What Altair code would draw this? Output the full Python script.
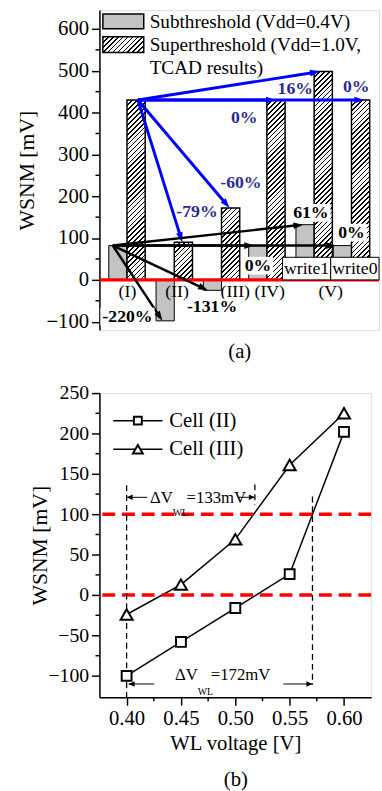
import math
import altair as alt
import pandas as pd

FONT = "Liberation Serif"
BLUE = "#0000ff"
NAVY = "#2b2b8f"
RED = "#ff0000"
GRAY = "#c3c3c3"

# ---------------- panel (a) data ----------------
groups = ["(I)", "(II)", "(III)", "(IV)", "write1", "write0"]
group_pos = [1.0, 2.0, 3.0, 3.96, 4.96, 5.75]
sub_vals = [82, -98, -25, 82, 132, 82]
super_vals = [430, 90, 172, 430, 498, 430]

cat_labels = ["(I)", "(II)", "(III)", "(IV)", "(V)"]
cat_label_x = [1.01, 2.06, 3.29, 4.02, 5.31]
cat_label_y = [-30, -30, -30, -30, -30]

write_labels = ["write1", "write0"]
write_box_x = [4.29, 5.31]
write_box_x2 = [5.31, 6.333]
write_box_y2 = [54, 54]

blue_from = (1.23, 430)
blue_to_x = [5.08, 4.15, 6.02, 2.17, 3.17]
blue_to_y = [498, 430, 430, 90, 172]
blue_text = ["16%", "0%", "0%", "-79%", "-60%"]
blue_text_x = [4.56, 3.48, 5.85, 2.48, 3.41]
blue_text_y = [457, 386, 462, 163, 231]

black_from = (0.70, 82)
black_to_x = [1.75, 2.71, 3.69, 4.73, 5.42]
black_to_y = [-98, -25, 82, 132, 82]
black_text = ["-220%", "-131%", "0%", "61%", "0%"]
black_text_x = [1.01, 2.80, 3.77, 4.89, 5.75]
black_text_y = [-88, -66, 34, 160, 113]

a_major = [-100, 0, 100, 200, 300, 400, 500, 600]
a_minor = [-50, 50, 150, 250, 350, 450, 550]

# ---------------- panel (b) data ----------------
wl = [0.40, 0.45, 0.50, 0.55, 0.60]
cell2 = [-100, -58, -16, 26, 202]
cell3 = [-24, 13, 69, 161, 225]
ref_levels = [0, 100]
vline_x = [0.40, 0.518, 0.571]
vline_top = [136, 137, 122]
vline_bot = [-126.5, 112, -111]
b_ymajor = [-100, -50, 0, 50, 100, 150, 200, 250]
b_yminor = [-75, -25, 25, 75, 125, 175, 225]
b_xmajor = [0.40, 0.45, 0.50, 0.55, 0.60]
b_xminor = [0.425, 0.475, 0.525, 0.575]

# ---------------- geometry ----------------
AX = [0.417, 6.333]; AW = 284
AY = [-120, 645]; AH = 325
kx = AW / (AX[1] - AX[0]); ky = AH / (AY[1] - AY[0])
BWID = 0.385

BX = [0.375, 0.625]; BWp = 276
BY = [-126.5, 250]; BHp = 309

XS = alt.Scale(domain=AX, nice=False, zero=False)
YS = alt.Scale(domain=AY, nice=False, zero=False)
XSB = alt.Scale(domain=BX, nice=False, zero=False)
YSB = alt.Scale(domain=BY, nice=False, zero=False)


def y_axis(values, title, pad, lsize):
    return alt.Axis(values=values, title=title, grid=False, domain=True, domainColor="black",
                    domainWidth=1.5, ticks=True, tickSize=8, tickWidth=1.5, tickColor="black",
                    labelFont=FONT, labelFontSize=lsize, labelColor="black", labelPadding=3,
                    titleFont=FONT, titleFontSize=22, titleFontWeight="normal", titleColor="black",
                    titlePadding=pad, labelOverlap=False, labelFlush=False)


AXIS_AX = alt.Axis(title="(a)", labels=False, ticks=False, domain=False, grid=False, titleFont=FONT,
                   titleFontSize=21, titleFontWeight="normal", titleColor="black", titlePadding=11)
AXIS_AY = y_axis(a_major, "WSNM [mV]", 8, 21)
AXIS_BX = alt.Axis(values=b_xmajor, format=".2f", title=["WL voltage [V]", "(b)"], grid=False, domain=True,
                   domainColor="black", domainWidth=1.5, tickSize=8, tickWidth=1.5, tickColor="black",
                   labelFont=FONT, labelFontSize=21, labelColor="black", labelPadding=3, labelFlush=False,
                   titleFont=FONT, titleFontSize=21, titleFontWeight="normal", titleColor="black",
                   titlePadding=4, titleLineHeight=37)
AXIS_BY = y_axis(b_ymajor, "WSNM [mV]", -4, 20)


def ax(f):
    return alt.X(f, scale=XS, axis=AXIS_AX)


def ay(f):
    return alt.Y(f, scale=YS, axis=AXIS_AY)


def bx(f):
    return alt.X(f, scale=XSB, axis=AXIS_BX)


def by(f):
    return alt.Y(f, scale=YSB, axis=AXIS_BY)


def hatch(w, h, period=5.0, ink=1.7):
    L = w + h
    r = h / w
    s = (1 + r) / (1 + r * r)
    stops = []
    k = 0
    while k * period < L:
        a = k * period / L
        b = min((k * period + ink) / L, 1.0)
        stops += [{"offset": a, "color": "white"}, {"offset": a, "color": "black"},
                  {"offset": b, "color": "black"}, {"offset": b, "color": "white"}]
        k += 1
    return {"gradient": "linear", "x1": 0, "y1": 0, "x2": s, "y2": s * r, "stops": stops}


def arrows(start, txs, tys, kx_, ky_, back):
    sx, sy = start
    rows = []
    for tx, ty in zip(txs, tys):
        dxp = (tx - sx) * kx_
        dyp = -(ty - sy) * ky_
        L = math.hypot(dxp, dyp)
        ang = math.degrees(math.atan2(dxp, -dyp)) % 360
        ex = tx - (dxp / L * back) / kx_
        ey = ty + (dyp / L * back) / ky_
        rows.append({"x": sx, "y": sy, "x2": ex, "y2": ey, "tx": tx, "ty": ty, "ang": ang})
    return pd.DataFrame(rows)


HEAD = "M0,0L-0.34,1L0.34,1Z"

# ---------------- panel (a) ----------------
df_bars = pd.DataFrame({"g": groups, "pos": group_pos, "sub": sub_vals, "sup": super_vals})
df_bars["gx0"] = df_bars["pos"] - BWID
df_bars["hx1"] = df_bars["pos"] + BWID
df_bars["zero"] = 0

a_layers = []
a_layers.append(
    alt.Chart(df_bars).mark_rect(fill=GRAY, stroke="black", strokeWidth=1).encode(
        x=ax("gx0:Q"), x2="pos:Q", y=ay("zero:Q"), y2="sub:Q")
)
for i in range(len(groups)):
    g = hatch(BWID * kx, super_vals[i] * ky)
    a_layers.append(
        alt.Chart(df_bars.iloc[[i]]).mark_rect(fill=g, stroke="black", strokeWidth=1.5).encode(
            x=ax("pos:Q"), x2="hx1:Q", y=ay("zero:Q"), y2="sup:Q")
    )

a_layers.append(
    alt.Chart(pd.DataFrame({"m": a_minor})).mark_rule(color="black", strokeWidth=1.5).encode(
        y=ay("m:Q"), x=alt.value(-4), x2=alt.value(0))
)
a_layers.append(
    alt.Chart(pd.DataFrame({"z": [0]})).mark_rule(color=RED, strokeWidth=3.5).encode(y=ay("z:Q"))
)

df_w = pd.DataFrame({"t": write_labels, "x": write_box_x, "x2": write_box_x2, "y": [0, 0], "y2": write_box_y2})
df_w["cx"] = (df_w["x"] + df_w["x2"]) / 2
df_w["cy"] = df_w["y2"] / 2
a_layers.append(
    alt.Chart(df_w).mark_rect(fill="white", stroke="black", strokeWidth=1).encode(
        x=ax("x:Q"), x2="x2:Q", y=ay("y:Q"), y2="y2:Q")
)
a_layers.append(
    alt.Chart(df_w).mark_text(font=FONT, fontSize=18, color="black", baseline="middle").encode(
        x=ax("cx:Q"), y=ay("cy:Q"), text="t:N")
)
a_layers.append(
    alt.Chart(pd.DataFrame({"t": cat_labels, "x": cat_label_x, "y": cat_label_y})).mark_text(
        font=FONT, fontSize=18, color="black", baseline="middle").encode(
        x=ax("x:Q"), y=ay("y:Q"), text="t:N")
)

for start, txs, tys, col, wid in [(blue_from, blue_to_x, blue_to_y, BLUE, 3.0),
                                  (black_from, black_to_x, black_to_y, "black", 2.5)]:
    dfa = arrows(start, txs, tys, kx, ky, 6)
    a_layers.append(
        alt.Chart(dfa).mark_rule(color=col, strokeWidth=wid).encode(
            x=ax("x:Q"), x2="x2:Q", y=ay("y:Q"), y2="y2:Q")
    )
    a_layers.append(
        alt.Chart(dfa).mark_point(shape=HEAD, size=400, filled=True, color=col, opacity=1).encode(
            x=ax("tx:Q"), y=ay("ty:Q"), angle=alt.Angle("ang:Q", scale=None))
    )


def text_w(s, em):
    w = 0.0
    for c in s:
        w += 1.0 if c == "%" else (0.333 if c == "-" else 0.5)
    return w * em


df_bt = pd.DataFrame({"t": black_text, "x": black_text_x, "y": black_text_y})
df_bt["bx"] = [x - (text_w(t, 18) / 2 + 2) / kx for t, x in zip(black_text, black_text_x)]
df_bt["bx2"] = [x + (text_w(t, 18) / 2 + 2) / kx for t, x in zip(black_text, black_text_x)]
df_bt["by"] = df_bt["y"] - 9 / ky
df_bt["by2"] = df_bt["y"] + 9 / ky
a_layers.append(
    alt.Chart(df_bt).mark_rect(fill="white").encode(x=ax("bx:Q"), x2="bx2:Q", y=ay("by:Q"), y2="by2:Q")
)
a_layers.append(
    alt.Chart(df_bt).mark_text(font=FONT, fontSize=18, fontWeight="bold", color="black", baseline="middle").encode(
        x=ax("x:Q"), y=ay("y:Q"), text="t:N")
)
a_layers.append(
    alt.Chart(pd.DataFrame({"t": blue_text, "x": blue_text_x, "y": blue_text_y})).mark_text(
        font=FONT, fontSize=18, fontWeight="bold", color=NAVY, baseline="middle").encode(
        x=ax("x:Q"), y=ay("y:Q"), text="t:N")
)

one = pd.DataFrame({"k": [0]})
a_layers.append(
    alt.Chart(one).mark_rect(fill=GRAY, stroke="black", strokeWidth=1.5).encode(
        x=alt.value(3.5), x2=alt.value(45), y=alt.value(4), y2=alt.value(19))
)
a_layers.append(
    alt.Chart(one).mark_rect(fill=hatch(41.5, 16), stroke="black", strokeWidth=1.5).encode(
        x=alt.value(3.5), x2=alt.value(45), y=alt.value(27), y2=alt.value(43))
)
for txt, yy in [("Subthreshold (Vdd=0.4V)", 12), ("Superthreshold (Vdd=1.0V,", 35.5), ("TCAD results)", 59)]:
    a_layers.append(
        alt.Chart(one).mark_text(font=FONT, fontSize=19.5, color="black", align="left", baseline="middle").encode(
            x=alt.value(51), y=alt.value(yy), text=alt.value(txt))
    )

panel_a = alt.layer(*a_layers).properties(width=AW, height=AH)

# ---------------- panel (b) ----------------
df_b = pd.DataFrame({"wl": wl * 2, "v": cell2 + cell3, "s": ["Cell (II)"] * 5 + ["Cell (III)"] * 5})
b_layers = []
b_layers.append(
    alt.Chart(df_b).mark_line(color="black", strokeWidth=1.5).encode(x=bx("wl:Q"), y=by("v:Q"), detail="s:N")
)
b_layers.append(
    alt.Chart(pd.DataFrame({"m": b_yminor})).mark_rule(color="black", strokeWidth=1.5).encode(
        y=by("m:Q"), x=alt.value(-4), x2=alt.value(0))
)
b_layers.append(
    alt.Chart(pd.DataFrame({"m": b_xminor})).mark_rule(color="black", strokeWidth=1.5).encode(
        x=bx("m:Q"), y=alt.value(BHp), y2=alt.value(BHp + 4))
)
b_layers.append(
    alt.Chart(pd.DataFrame({"r": ref_levels})).mark_rule(color=RED, strokeWidth=3.5, strokeDash=[13, 7]).encode(
        y=by("r:Q"))
)
b_layers.append(
    alt.Chart(pd.DataFrame({"x": vline_x, "y": vline_top, "y2": vline_bot})).mark_rule(
        color="black", strokeWidth=1.3, strokeDash=[6, 4]).encode(x=bx("x:Q"), y=by("y:Q"), y2="y2:Q")
)
b_layers.append(
    alt.Chart(pd.DataFrame({"wl": wl, "v": cell2})).mark_point(
        shape="square", size=100, filled=True, fill="white", stroke="black", strokeWidth=2, opacity=1).encode(
        x=bx("wl:Q"), y=by("v:Q"))
)
b_layers.append(
    alt.Chart(pd.DataFrame({"wl": wl, "v": cell3})).mark_point(
        shape="triangle-up", size=150, filled=True, fill="white", stroke="black", strokeWidth=2, opacity=1).encode(
        x=bx("wl:Q"), y=by("v:Q"))
)

seg = pd.DataFrame({"x": [0.400, 0.503, 0.4018, 0.5443], "x2": [0.419, 0.518, 0.4253, 0.571],
                    "y": [121, 121, -110, -110]})
b_layers.append(
    alt.Chart(seg).mark_rule(color="black", strokeWidth=1).encode(x=bx("x:Q"), x2="x2:Q", y=by("y:Q"))
)
heads = pd.DataFrame({"x": [0.400, 0.518, 0.4018, 0.571], "y": [121, 121, -110, -110],
                      "ang": [270, 90, 270, 90]})
b_layers.append(
    alt.Chart(heads).mark_point(shape="M0,0L-0.45,1L0.45,1Z", size=150, filled=True, color="black", opacity=1).encode(
        x=bx("x:Q"), y=by("y:Q"), angle=alt.Angle("ang:Q", scale=None))
)
dv_main = pd.DataFrame({"x": [0.4425, 0.4655], "y": [120, -99]})
dv_sub = pd.DataFrame({"x": [0.4425, 0.4655], "y": [102, -120]})
dv_val = pd.DataFrame({"x": [0.4552, 0.4774], "y": [120, -99], "t": ["=133mV", "=172mV"]})
b_layers.append(
    alt.Chart(dv_main).mark_text(font=FONT, fontSize=17, color="black", align="right", baseline="middle",
                                 text="\u0394V").encode(x=bx("x:Q"), y=by("y:Q"))
)
b_layers.append(
    alt.Chart(dv_sub).mark_text(font=FONT, fontSize=10, color="black", align="left", baseline="middle",
                                text="WL").encode(x=bx("x:Q"), y=by("y:Q"))
)
b_layers.append(
    alt.Chart(dv_val).mark_text(font=FONT, fontSize=17, color="black", align="left", baseline="middle").encode(
        x=bx("x:Q"), y=by("y:Q"), text="t:N")
)

for yy, shp, sz, name in [(28, "square", 64, "Cell (II)"), (57, "triangle-up", 100, "Cell (III)")]:
    b_layers.append(
        alt.Chart(one).mark_rule(color="black", strokeWidth=1.5).encode(
            x=alt.value(14), x2=alt.value(64), y=alt.value(yy))
    )
    b_layers.append(
        alt.Chart(one).mark_point(shape=shp, size=sz, filled=True, fill="white", stroke="black",
                                  strokeWidth=2, opacity=1).encode(x=alt.value(39), y=alt.value(yy))
    )
    b_layers.append(
        alt.Chart(one).mark_text(font=FONT, fontSize=21, color="black", align="left", baseline="middle").encode(
            x=alt.value(71), y=alt.value(yy), text=alt.value(name))
    )

panel_b = alt.layer(*b_layers).properties(width=BWp, height=BHp)

chart = alt.vconcat(panel_a, panel_b, spacing=64, bounds="flush").properties(
    padding={"left": 15, "top": 3, "right": 0, "bottom": 0}
).configure_view(stroke="black", strokeWidth=1.5).configure(background="white")

chart.save("out.html", embed_options={"renderer": "svg", "actions": False})
